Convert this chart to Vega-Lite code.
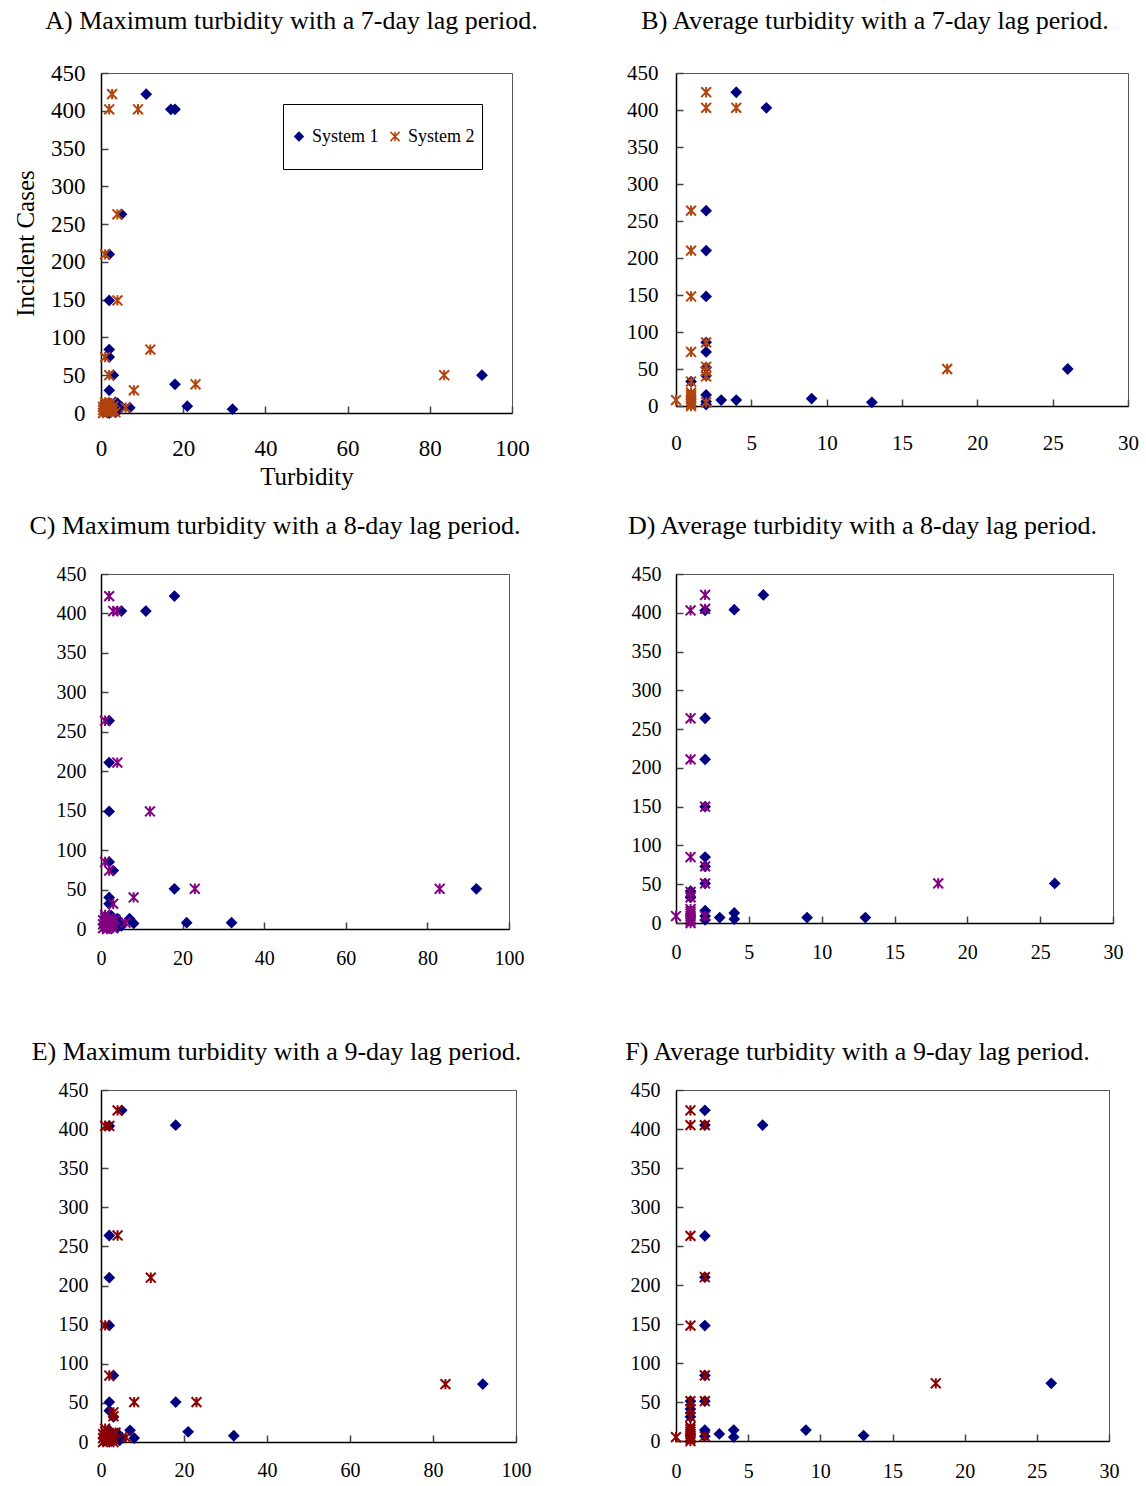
{
  "$schema": "https://vega.github.io/schema/vega-lite/v6.json",
  "padding": {"left": 13, "top": 7, "right": 4, "bottom": 0},
  "background": "white",
  "bounds": "flush",
  "columns": 2,
  "align": "each",
  "spacing": {"row": 161, "column": 160},
  "resolve": {"scale": {"color": "independent", "stroke": "independent", "shape": "independent"}},
  "datasets": {
    "A": [
      {"x": 11, "y": 422, "s": "System 1"}, {"x": 17, "y": 402, "s": "System 1"}, {"x": 18, "y": 402, "s": "System 1"},
      {"x": 5, "y": 263, "s": "System 1"}, {"x": 2, "y": 210, "s": "System 1"}, {"x": 2, "y": 149, "s": "System 1"},
      {"x": 2, "y": 84, "s": "System 1"}, {"x": 2, "y": 74, "s": "System 1"}, {"x": 3, "y": 50, "s": "System 1"},
      {"x": 2, "y": 30, "s": "System 1"}, {"x": 18, "y": 38, "s": "System 1"}, {"x": 21, "y": 9, "s": "System 1"},
      {"x": 32, "y": 5, "s": "System 1"}, {"x": 7, "y": 7, "s": "System 1"}, {"x": 92.7, "y": 50, "s": "System 1"},
      {"x": 1, "y": 2, "s": "System 1"}, {"x": 1.5, "y": 6, "s": "System 1"}, {"x": 2, "y": 10, "s": "System 1"},
      {"x": 2, "y": 13, "s": "System 1"}, {"x": 2.5, "y": 3, "s": "System 1"}, {"x": 3, "y": 7, "s": "System 1"},
      {"x": 3, "y": 11, "s": "System 1"}, {"x": 3.5, "y": 1, "s": "System 1"}, {"x": 4, "y": 9, "s": "System 1"},
      {"x": 4.5, "y": 5, "s": "System 1"}, {"x": 5, "y": 8, "s": "System 1"}, {"x": 1, "y": 12, "s": "System 1"},
      {"x": 2, "y": 0, "s": "System 1"}, {"x": 3.5, "y": 14, "s": "System 1"}, {"x": 4, "y": 3, "s": "System 1"},
      {"x": 4, "y": 13, "s": "System 1"},
      {"x": 2.7, "y": 422, "s": "System 2"}, {"x": 2, "y": 402, "s": "System 2"}, {"x": 9, "y": 402, "s": "System 2"},
      {"x": 4, "y": 263, "s": "System 2"}, {"x": 1, "y": 210, "s": "System 2"}, {"x": 4, "y": 149, "s": "System 2"},
      {"x": 12, "y": 84, "s": "System 2"}, {"x": 1, "y": 74, "s": "System 2"}, {"x": 2, "y": 50, "s": "System 2"},
      {"x": 8, "y": 30, "s": "System 2"}, {"x": 23, "y": 38, "s": "System 2"}, {"x": 6, "y": 7, "s": "System 2"},
      {"x": 83.5, "y": 50, "s": "System 2"}, {"x": 0.5, "y": 0, "s": "System 2"}, {"x": 0.5, "y": 4, "s": "System 2"},
      {"x": 0.5, "y": 8, "s": "System 2"}, {"x": 1, "y": 2, "s": "System 2"}, {"x": 1, "y": 6, "s": "System 2"},
      {"x": 1, "y": 10, "s": "System 2"}, {"x": 1, "y": 14, "s": "System 2"}, {"x": 1.5, "y": 1, "s": "System 2"},
      {"x": 1.5, "y": 5, "s": "System 2"}, {"x": 1.5, "y": 9, "s": "System 2"}, {"x": 1.5, "y": 12, "s": "System 2"},
      {"x": 2, "y": 3, "s": "System 2"}, {"x": 2, "y": 7, "s": "System 2"}, {"x": 2, "y": 11, "s": "System 2"},
      {"x": 2.5, "y": 2, "s": "System 2"}, {"x": 2.5, "y": 6, "s": "System 2"}, {"x": 2.5, "y": 13, "s": "System 2"},
      {"x": 3, "y": 4, "s": "System 2"}, {"x": 3, "y": 9, "s": "System 2"}, {"x": 3.5, "y": 1, "s": "System 2"}
    ],
    "B": [
      {"x": 4, "y": 424, "s": "System 1"}, {"x": 6, "y": 403, "s": "System 1"}, {"x": 2, "y": 264, "s": "System 1"},
      {"x": 2, "y": 210, "s": "System 1"}, {"x": 2, "y": 148, "s": "System 1"}, {"x": 2, "y": 86, "s": "System 1"},
      {"x": 2, "y": 73, "s": "System 1"}, {"x": 2, "y": 52, "s": "System 1"}, {"x": 2, "y": 41, "s": "System 1"},
      {"x": 2, "y": 15, "s": "System 1"}, {"x": 2, "y": 6, "s": "System 1"}, {"x": 3, "y": 8, "s": "System 1"},
      {"x": 4, "y": 8, "s": "System 1"}, {"x": 1, "y": 33, "s": "System 1"}, {"x": 9, "y": 10, "s": "System 1"},
      {"x": 13, "y": 5, "s": "System 1"}, {"x": 26, "y": 50, "s": "System 1"}, {"x": 2, "y": 2, "s": "System 1"},
      {"x": 2, "y": 424, "s": "System 2"}, {"x": 2, "y": 403, "s": "System 2"}, {"x": 4, "y": 403, "s": "System 2"},
      {"x": 1, "y": 264, "s": "System 2"}, {"x": 1, "y": 210, "s": "System 2"}, {"x": 1, "y": 148, "s": "System 2"},
      {"x": 1, "y": 73, "s": "System 2"}, {"x": 2, "y": 86, "s": "System 2"}, {"x": 2, "y": 53, "s": "System 2"},
      {"x": 2, "y": 47, "s": "System 2"}, {"x": 2, "y": 40, "s": "System 2"}, {"x": 1, "y": 33, "s": "System 2"},
      {"x": 0, "y": 8, "s": "System 2"}, {"x": 1, "y": 0, "s": "System 2"}, {"x": 1, "y": 3, "s": "System 2"},
      {"x": 1, "y": 6, "s": "System 2"}, {"x": 1, "y": 9, "s": "System 2"}, {"x": 1, "y": 12, "s": "System 2"},
      {"x": 1, "y": 15, "s": "System 2"}, {"x": 1, "y": 18, "s": "System 2"}, {"x": 2, "y": 5, "s": "System 2"},
      {"x": 18, "y": 50, "s": "System 2"}
    ],
    "C": [
      {"x": 18, "y": 422, "s": "System 1"}, {"x": 5, "y": 403, "s": "System 1"}, {"x": 11, "y": 403, "s": "System 1"},
      {"x": 2, "y": 264, "s": "System 1"}, {"x": 2, "y": 211, "s": "System 1"}, {"x": 2, "y": 149, "s": "System 1"},
      {"x": 2, "y": 85, "s": "System 1"}, {"x": 3, "y": 74, "s": "System 1"}, {"x": 18, "y": 51, "s": "System 1"},
      {"x": 2, "y": 40, "s": "System 1"}, {"x": 2, "y": 32, "s": "System 1"}, {"x": 21, "y": 8, "s": "System 1"},
      {"x": 32, "y": 8, "s": "System 1"}, {"x": 7, "y": 13, "s": "System 1"}, {"x": 8, "y": 7, "s": "System 1"},
      {"x": 92, "y": 51, "s": "System 1"}, {"x": 1, "y": 3, "s": "System 1"}, {"x": 1.5, "y": 8, "s": "System 1"},
      {"x": 2, "y": 12, "s": "System 1"}, {"x": 2, "y": 1, "s": "System 1"}, {"x": 3, "y": 5, "s": "System 1"},
      {"x": 3, "y": 10, "s": "System 1"}, {"x": 4, "y": 2, "s": "System 1"}, {"x": 4, "y": 7, "s": "System 1"},
      {"x": 5, "y": 4, "s": "System 1"}, {"x": 1, "y": 15, "s": "System 1"}, {"x": 2.5, "y": 17, "s": "System 1"},
      {"x": 4, "y": 13, "s": "System 1"},
      {"x": 2, "y": 422, "s": "System 2"}, {"x": 3, "y": 403, "s": "System 2"}, {"x": 4, "y": 403, "s": "System 2"},
      {"x": 1, "y": 264, "s": "System 2"}, {"x": 4, "y": 211, "s": "System 2"}, {"x": 12, "y": 149, "s": "System 2"},
      {"x": 1, "y": 85, "s": "System 2"}, {"x": 2, "y": 74, "s": "System 2"}, {"x": 8, "y": 40, "s": "System 2"},
      {"x": 23, "y": 51, "s": "System 2"}, {"x": 3, "y": 32, "s": "System 2"}, {"x": 6, "y": 8, "s": "System 2"},
      {"x": 83, "y": 51, "s": "System 2"}, {"x": 0.5, "y": 1, "s": "System 2"}, {"x": 0.5, "y": 6, "s": "System 2"},
      {"x": 0.5, "y": 11, "s": "System 2"}, {"x": 1, "y": 3, "s": "System 2"}, {"x": 1, "y": 8, "s": "System 2"},
      {"x": 1, "y": 14, "s": "System 2"}, {"x": 1.5, "y": 0, "s": "System 2"}, {"x": 1.5, "y": 5, "s": "System 2"},
      {"x": 1.5, "y": 10, "s": "System 2"}, {"x": 2, "y": 2, "s": "System 2"}, {"x": 2, "y": 7, "s": "System 2"},
      {"x": 2, "y": 13, "s": "System 2"}, {"x": 2.5, "y": 4, "s": "System 2"}, {"x": 2.5, "y": 9, "s": "System 2"},
      {"x": 3, "y": 1, "s": "System 2"}, {"x": 3, "y": 6, "s": "System 2"}, {"x": 3.5, "y": 12, "s": "System 2"},
      {"x": 1, "y": 18, "s": "System 2"}
    ],
    "D": [
      {"x": 6, "y": 423, "s": "System 1"}, {"x": 4, "y": 404, "s": "System 1"}, {"x": 2, "y": 403, "s": "System 1"},
      {"x": 2, "y": 264, "s": "System 1"}, {"x": 2, "y": 211, "s": "System 1"}, {"x": 2, "y": 150, "s": "System 1"},
      {"x": 2, "y": 85, "s": "System 1"}, {"x": 2, "y": 73, "s": "System 1"}, {"x": 2, "y": 51, "s": "System 1"},
      {"x": 1, "y": 41, "s": "System 1"}, {"x": 1, "y": 33, "s": "System 1"}, {"x": 2, "y": 16, "s": "System 1"},
      {"x": 2, "y": 9, "s": "System 1"}, {"x": 3, "y": 7, "s": "System 1"}, {"x": 4, "y": 13, "s": "System 1"},
      {"x": 4, "y": 5, "s": "System 1"}, {"x": 9, "y": 7, "s": "System 1"}, {"x": 13, "y": 7, "s": "System 1"},
      {"x": 26, "y": 51, "s": "System 1"}, {"x": 2, "y": 4, "s": "System 1"},
      {"x": 2, "y": 423, "s": "System 2"}, {"x": 1, "y": 403, "s": "System 2"}, {"x": 2, "y": 405, "s": "System 2"},
      {"x": 1, "y": 264, "s": "System 2"}, {"x": 1, "y": 211, "s": "System 2"}, {"x": 2, "y": 150, "s": "System 2"},
      {"x": 1, "y": 85, "s": "System 2"}, {"x": 2, "y": 73, "s": "System 2"}, {"x": 2, "y": 51, "s": "System 2"},
      {"x": 1, "y": 40, "s": "System 2"}, {"x": 1, "y": 33, "s": "System 2"}, {"x": 0, "y": 9, "s": "System 2"},
      {"x": 1, "y": 0, "s": "System 2"}, {"x": 1, "y": 3, "s": "System 2"}, {"x": 1, "y": 6, "s": "System 2"},
      {"x": 1, "y": 9, "s": "System 2"}, {"x": 1, "y": 12, "s": "System 2"}, {"x": 1, "y": 15, "s": "System 2"},
      {"x": 1, "y": 18, "s": "System 2"}, {"x": 2, "y": 9, "s": "System 2"}, {"x": 18, "y": 51, "s": "System 2"}
    ],
    "E": [
      {"x": 5, "y": 424, "s": "System 1"}, {"x": 18, "y": 405, "s": "System 1"}, {"x": 2, "y": 404, "s": "System 1"},
      {"x": 2, "y": 264, "s": "System 1"}, {"x": 2, "y": 210, "s": "System 1"}, {"x": 2, "y": 149, "s": "System 1"},
      {"x": 3, "y": 85, "s": "System 1"}, {"x": 2, "y": 51, "s": "System 1"}, {"x": 2, "y": 40, "s": "System 1"},
      {"x": 3, "y": 32, "s": "System 1"}, {"x": 18, "y": 51, "s": "System 1"}, {"x": 21, "y": 13, "s": "System 1"},
      {"x": 32, "y": 8, "s": "System 1"}, {"x": 7, "y": 15, "s": "System 1"}, {"x": 8, "y": 5, "s": "System 1"},
      {"x": 92, "y": 74, "s": "System 1"}, {"x": 1, "y": 2, "s": "System 1"}, {"x": 1, "y": 8, "s": "System 1"},
      {"x": 1.5, "y": 12, "s": "System 1"}, {"x": 2, "y": 5, "s": "System 1"}, {"x": 2, "y": 15, "s": "System 1"},
      {"x": 2.5, "y": 1, "s": "System 1"}, {"x": 3, "y": 9, "s": "System 1"}, {"x": 3.5, "y": 4, "s": "System 1"},
      {"x": 4, "y": 11, "s": "System 1"}, {"x": 5, "y": 6, "s": "System 1"}, {"x": 4.5, "y": 2, "s": "System 1"},
      {"x": 4, "y": 424, "s": "System 2"}, {"x": 1, "y": 404, "s": "System 2"}, {"x": 2, "y": 404, "s": "System 2"},
      {"x": 4, "y": 264, "s": "System 2"}, {"x": 12, "y": 210, "s": "System 2"}, {"x": 1, "y": 149, "s": "System 2"},
      {"x": 2, "y": 85, "s": "System 2"}, {"x": 8, "y": 51, "s": "System 2"}, {"x": 23, "y": 51, "s": "System 2"},
      {"x": 3, "y": 38, "s": "System 2"}, {"x": 3, "y": 33, "s": "System 2"}, {"x": 6, "y": 6, "s": "System 2"},
      {"x": 83, "y": 74, "s": "System 2"}, {"x": 0.5, "y": 0, "s": "System 2"}, {"x": 0.5, "y": 5, "s": "System 2"},
      {"x": 0.5, "y": 10, "s": "System 2"}, {"x": 1, "y": 2, "s": "System 2"}, {"x": 1, "y": 7, "s": "System 2"},
      {"x": 1, "y": 13, "s": "System 2"}, {"x": 1.5, "y": 4, "s": "System 2"}, {"x": 1.5, "y": 9, "s": "System 2"},
      {"x": 2, "y": 1, "s": "System 2"}, {"x": 2, "y": 6, "s": "System 2"}, {"x": 2, "y": 11, "s": "System 2"},
      {"x": 2.5, "y": 3, "s": "System 2"}, {"x": 2.5, "y": 8, "s": "System 2"}, {"x": 3, "y": 0, "s": "System 2"},
      {"x": 3, "y": 5, "s": "System 2"}, {"x": 3.5, "y": 12, "s": "System 2"}, {"x": 1, "y": 17, "s": "System 2"}
    ],
    "F": [
      {"x": 2, "y": 424, "s": "System 1"}, {"x": 2, "y": 405, "s": "System 1"}, {"x": 6, "y": 405, "s": "System 1"},
      {"x": 2, "y": 263, "s": "System 1"}, {"x": 2, "y": 210, "s": "System 1"}, {"x": 2, "y": 148, "s": "System 1"},
      {"x": 2, "y": 84, "s": "System 1"}, {"x": 2, "y": 51, "s": "System 1"}, {"x": 1, "y": 51, "s": "System 1"},
      {"x": 1, "y": 41, "s": "System 1"}, {"x": 1, "y": 31, "s": "System 1"}, {"x": 2, "y": 14, "s": "System 1"},
      {"x": 2, "y": 6, "s": "System 1"}, {"x": 3, "y": 9, "s": "System 1"}, {"x": 4, "y": 14, "s": "System 1"},
      {"x": 4, "y": 5, "s": "System 1"}, {"x": 9, "y": 14, "s": "System 1"}, {"x": 13, "y": 7, "s": "System 1"},
      {"x": 26, "y": 74, "s": "System 1"},
      {"x": 1, "y": 424, "s": "System 2"}, {"x": 1, "y": 405, "s": "System 2"}, {"x": 2, "y": 405, "s": "System 2"},
      {"x": 1, "y": 263, "s": "System 2"}, {"x": 2, "y": 210, "s": "System 2"}, {"x": 1, "y": 148, "s": "System 2"},
      {"x": 2, "y": 84, "s": "System 2"}, {"x": 1, "y": 51, "s": "System 2"}, {"x": 2, "y": 51, "s": "System 2"},
      {"x": 1, "y": 41, "s": "System 2"}, {"x": 1, "y": 31, "s": "System 2"}, {"x": 0, "y": 5, "s": "System 2"},
      {"x": 1, "y": 0, "s": "System 2"}, {"x": 1, "y": 3, "s": "System 2"}, {"x": 1, "y": 6, "s": "System 2"},
      {"x": 1, "y": 9, "s": "System 2"}, {"x": 1, "y": 12, "s": "System 2"}, {"x": 1, "y": 15, "s": "System 2"},
      {"x": 1, "y": 18, "s": "System 2"}, {"x": 2, "y": 6, "s": "System 2"}, {"x": 18, "y": 74, "s": "System 2"}
    ]
  },
  "concat": [
    {
      "width": 411, "height": 340,
      "title": {"text": "A) Maximum turbidity with a 7-day lag period.", "offset": 28, "dx": -15},
      "data": {"name": "A"},
      "mark": {"type": "point", "filled": true, "size": 80, "strokeWidth": 2, "opacity": 1},
      "encoding": {
        "x": {"field": "x", "type": "quantitative", "scale": {"domain": [0, 100], "nice": false},
              "axis": {"values": [0, 20, 40, 60, 80, 100], "title": "Turbidity", "labelFontSize": 23, "labelPadding": 31, "titleFontSize": 25, "titlePadding": 4}},
        "y": {"field": "y", "type": "quantitative", "scale": {"domain": [0, 450], "nice": false},
              "axis": {"values": [0, 50, 100, 150, 200, 250, 300, 350, 400, 450], "title": "Incident Cases", "labelFontSize": 23, "labelPadding": 23, "titleFontSize": 25, "titlePadding": 12}},
        "color": {"field": "s", "type": "nominal", "scale": {"domain": ["System 1", "System 2"], "range": ["#000080", "#B0440F"]},
                  "legend": {"title": null, "orient": "none", "legendX": 182, "legendY": 31, "direction": "horizontal", "strokeColor": "black", "fillColor": "white", "padding": 7, "clipHeight": 51, "labelFontSize": 18, "labelFont": "Liberation Serif", "labelColor": "black", "symbolSize": 70, "symbolStrokeWidth": 1.5, "columnPadding": 7, "labelOffset": 4}},
        "stroke": {"field": "s", "type": "nominal", "scale": {"domain": ["System 1", "System 2"], "range": ["#000080", "#B0440F"]}},
        "shape": {"field": "s", "type": "nominal", "scale": {"domain": ["System 1", "System 2"], "range": ["diamond", "M-1.1,-1.1L1.1,1.1M-1.1,1.1L1.1,-1.1M0,-1.15L0,1.15"]}}
      }
    },
    {
      "width": 452, "height": 333,
      "title": {"text": "B) Average turbidity with a 7-day lag period.", "offset": 28, "dx": -27},
      "data": {"name": "B"},
      "mark": {"type": "point", "filled": true, "size": 80, "strokeWidth": 2, "opacity": 1},
      "encoding": {
        "x": {"field": "x", "type": "quantitative", "scale": {"domain": [0, 30], "nice": false},
              "axis": {"values": [0, 5, 10, 15, 20, 25, 30], "title": null, "labelFontSize": 21, "labelPadding": 33}},
        "y": {"field": "y", "type": "quantitative", "scale": {"domain": [0, 450], "nice": false},
              "axis": {"values": [0, 50, 100, 150, 200, 250, 300, 350, 400, 450], "title": null, "labelFontSize": 21, "labelPadding": 25}},
        "color": {"field": "s", "type": "nominal", "scale": {"domain": ["System 1", "System 2"], "range": ["#000080", "#B0440F"]}, "legend": null},
        "stroke": {"field": "s", "type": "nominal", "scale": {"domain": ["System 1", "System 2"], "range": ["#000080", "#B0440F"]}, "legend": null},
        "shape": {"field": "s", "type": "nominal", "scale": {"domain": ["System 1", "System 2"], "range": ["diamond", "M-1.1,-1.1L1.1,1.1M-1.1,1.1L1.1,-1.1M0,-1.15L0,1.15"]}, "legend": null}
      }
    },
    {
      "width": 408, "height": 355,
      "title": {"text": "C) Maximum turbidity with a 8-day lag period.", "offset": 25, "dx": -30},
      "data": {"name": "C"},
      "mark": {"type": "point", "filled": true, "size": 80, "strokeWidth": 2, "opacity": 1},
      "encoding": {
        "x": {"field": "x", "type": "quantitative", "scale": {"domain": [0, 100], "nice": false},
              "axis": {"values": [0, 20, 40, 60, 80, 100], "title": null, "labelFontSize": 20, "labelPadding": 26}},
        "y": {"field": "y", "type": "quantitative", "scale": {"domain": [0, 450], "nice": false},
              "axis": {"values": [0, 50, 100, 150, 200, 250, 300, 350, 400, 450], "title": null, "labelFontSize": 20, "labelPadding": 22}},
        "color": {"field": "s", "type": "nominal", "scale": {"domain": ["System 1", "System 2"], "range": ["#000080", "#800080"]}, "legend": null},
        "stroke": {"field": "s", "type": "nominal", "scale": {"domain": ["System 1", "System 2"], "range": ["#000080", "#800080"]}, "legend": null},
        "shape": {"field": "s", "type": "nominal", "scale": {"domain": ["System 1", "System 2"], "range": ["diamond", "M-1.1,-1.1L1.1,1.1M-1.1,1.1L1.1,-1.1M0,-1.15L0,1.15"]}, "legend": null}
      }
    },
    {
      "width": 437, "height": 349,
      "title": {"text": "D) Average turbidity with a 8-day lag period.", "offset": 25, "dx": -32},
      "data": {"name": "D"},
      "mark": {"type": "point", "filled": true, "size": 80, "strokeWidth": 2, "opacity": 1},
      "encoding": {
        "x": {"field": "x", "type": "quantitative", "scale": {"domain": [0, 30], "nice": false},
              "axis": {"values": [0, 5, 10, 15, 20, 25, 30], "title": null, "labelFontSize": 20, "labelPadding": 26}},
        "y": {"field": "y", "type": "quantitative", "scale": {"domain": [0, 450], "nice": false},
              "axis": {"values": [0, 50, 100, 150, 200, 250, 300, 350, 400, 450], "title": null, "labelFontSize": 20, "labelPadding": 22}},
        "color": {"field": "s", "type": "nominal", "scale": {"domain": ["System 1", "System 2"], "range": ["#000080", "#800080"]}, "legend": null},
        "stroke": {"field": "s", "type": "nominal", "scale": {"domain": ["System 1", "System 2"], "range": ["#000080", "#800080"]}, "legend": null},
        "shape": {"field": "s", "type": "nominal", "scale": {"domain": ["System 1", "System 2"], "range": ["diamond", "M-1.1,-1.1L1.1,1.1M-1.1,1.1L1.1,-1.1M0,-1.15L0,1.15"]}, "legend": null}
      }
    },
    {
      "width": 415, "height": 352,
      "title": {"text": "E) Maximum turbidity with a 9-day lag period.", "offset": 15, "dx": -32},
      "data": {"name": "E"},
      "mark": {"type": "point", "filled": true, "size": 80, "strokeWidth": 2, "opacity": 1},
      "encoding": {
        "x": {"field": "x", "type": "quantitative", "scale": {"domain": [0, 100], "nice": false},
              "axis": {"values": [0, 20, 40, 60, 80, 100], "title": null, "labelFontSize": 20, "labelPadding": 25}},
        "y": {"field": "y", "type": "quantitative", "scale": {"domain": [0, 450], "nice": false},
              "axis": {"values": [0, 50, 100, 150, 200, 250, 300, 350, 400, 450], "title": null, "labelFontSize": 20, "labelPadding": 20}},
        "color": {"field": "s", "type": "nominal", "scale": {"domain": ["System 1", "System 2"], "range": ["#000080", "#8B0000"]}, "legend": null},
        "stroke": {"field": "s", "type": "nominal", "scale": {"domain": ["System 1", "System 2"], "range": ["#000080", "#8B0000"]}, "legend": null},
        "shape": {"field": "s", "type": "nominal", "scale": {"domain": ["System 1", "System 2"], "range": ["diamond", "M-1.1,-1.1L1.1,1.1M-1.1,1.1L1.1,-1.1M0,-1.15L0,1.15"]}, "legend": null}
      }
    },
    {
      "width": 433, "height": 351,
      "title": {"text": "F) Average turbidity with a 9-day lag period.", "offset": 15, "dx": -35},
      "data": {"name": "F"},
      "mark": {"type": "point", "filled": true, "size": 80, "strokeWidth": 2, "opacity": 1},
      "encoding": {
        "x": {"field": "x", "type": "quantitative", "scale": {"domain": [0, 30], "nice": false},
              "axis": {"values": [0, 5, 10, 15, 20, 25, 30], "title": null, "labelFontSize": 20, "labelPadding": 27}},
        "y": {"field": "y", "type": "quantitative", "scale": {"domain": [0, 450], "nice": false},
              "axis": {"values": [0, 50, 100, 150, 200, 250, 300, 350, 400, 450], "title": null, "labelFontSize": 20, "labelPadding": 23}},
        "color": {"field": "s", "type": "nominal", "scale": {"domain": ["System 1", "System 2"], "range": ["#000080", "#8B0000"]}, "legend": null},
        "stroke": {"field": "s", "type": "nominal", "scale": {"domain": ["System 1", "System 2"], "range": ["#000080", "#8B0000"]}, "legend": null},
        "shape": {"field": "s", "type": "nominal", "scale": {"domain": ["System 1", "System 2"], "range": ["diamond", "M-1.1,-1.1L1.1,1.1M-1.1,1.1L1.1,-1.1M0,-1.15L0,1.15"]}, "legend": null}
      }
    }
  ],
  "config": {
    "font": "Liberation Serif",
    "view": {"stroke": "#555555", "strokeWidth": 1},
    "axis": {"grid": false, "domainColor": "black", "domainWidth": 1.5, "tickColor": "#444444", "tickSize": -7, "tickWidth": 1.5,
             "labelColor": "black", "labelFont": "Liberation Serif", "labelFlush": false, "labelOverlap": false,
             "titleFont": "Liberation Serif", "titleFontWeight": "normal", "titleColor": "black"},
    "title": {"font": "Liberation Serif", "fontWeight": "normal", "fontSize": 26, "color": "black", "anchor": "middle"}
  }
}
